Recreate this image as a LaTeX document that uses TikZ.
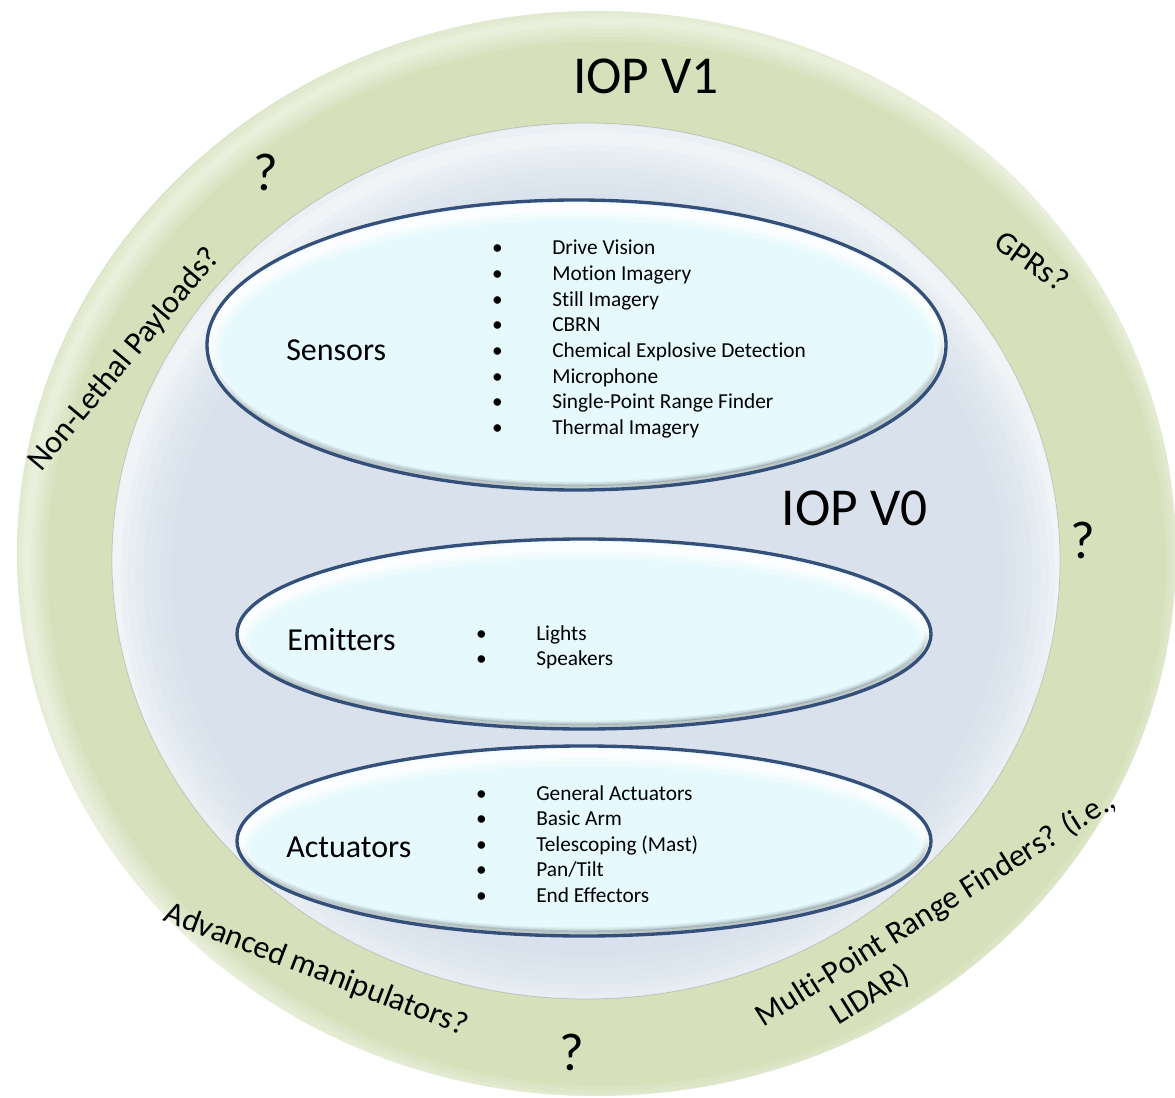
\documentclass[tikz,border=0pt]{standalone}
\usepackage{fontspec}
\setmainfont{Carlito}[Ligatures=NoCommon]
\definecolor{ringgreen}{HTML}{D6E1BC}
\definecolor{innerblue}{HTML}{D9E2EC}
\definecolor{podfill}{HTML}{E6FAFD}
\definecolor{podline}{HTML}{34507A}
\tikzset{
  lbl/.style={font=\fontsize{24}{29}\selectfont, inner sep=0pt},
  itm/.style={font=\fontsize{16}{19.2}\selectfont, inner sep=0pt},
  bigt/.style={font=\fontsize{40}{48}\selectfont, inner sep=0pt},
  qm/.style={font=\fontsize{40}{48}\selectfont, inner sep=0pt},
}
\newcommand{\podshape}[4]{%
  \fill[podfill] (#1,#2) ellipse [x radius=#3, y radius=#4];
  \begin{scope}
    \clip (#1,#2) ellipse [x radius=#3, y radius=#4];
    \foreach \w/\o in {8/0.05, 6/0.07, 4/0.09, 2.5/0.12}
      \draw[black, line width=\w pt, opacity=\o] ({#1-1.5},{#2-3}) ellipse [x radius=#3, y radius=#4];
    \foreach \w/\o in {18/0.3, 11/0.45, 6/0.65}
      \draw[white, line width=\w pt, opacity=\o] ({#1+1},{#2+8}) ellipse [x radius=#3, y radius=#4];
  \end{scope}
  \draw[podline, line width=2.5pt] (#1,#2) ellipse [x radius=#3, y radius=#4];
}
\begin{document}
\begin{tikzpicture}[x=0.75pt,y=-0.75pt]
\useasboundingbox (0,0) rectangle (1175,1098);
% outer ring
\fill[ringgreen] (596.5,553.5) ellipse [x radius=434.625pt, y radius=406.875pt];
\begin{scope}
  \clip (596.5,553.5) ellipse [x radius=434.625pt, y radius=406.875pt];
  \foreach \w/\o in {30/0.10, 24/0.10, 18/0.12, 12/0.14, 6/0.18}
    \draw[white, line width=\w pt, opacity=\o] (606.5,563.5) ellipse [x radius=434.625pt, y radius=406.875pt];
\end{scope}
% inner disc
\fill[innerblue] (586,561) ellipse [x radius=355.5pt, y radius=328.5pt];
\begin{scope}
  \clip (586,561) ellipse [x radius=355.5pt, y radius=328.5pt];
  \foreach \w/\o in {84/0.07, 70/0.08, 56/0.10, 44/0.12, 32/0.15, 20/0.2, 10/0.3}
    \draw[white, line width=\w pt, opacity=\o] (588,576) ellipse [x radius=355.5pt, y radius=328.5pt];
\end{scope}
\draw[black, opacity=0.15, line width=0.6pt] (586,561) ellipse [x radius=355.5pt, y radius=328.5pt];
% pods
\podshape{576.5}{345}{277.125pt}{108.75pt}
\podshape{584}{634}{260.25pt}{71.25pt}
\podshape{584}{841}{260.25pt}{71.25pt}
% titles
\node[bigt] (v1) at (646,76) {IOP V1};
\node[bigt] (v0) at (854.5,508.5) {IOP V0};
% question marks
\node[qm] (q1) at (266,172) {?};
\node[qm] (q2) at (1083,540) {?};
\node[qm] (q3) at (572,1052) {?};
% ring labels
\node[lbl, rotate=50] (nonlethal) at (124.5,359.5) {Non-Lethal Payloads?};
\node[lbl, rotate=-35] (gprs) at (1032,261) {GPRs?};
\node[lbl, rotate=-21] (advanced) at (316,970) {Advanced manipulators?};
\node[lbl, rotate=32] (multi1) at (936,909) {Multi-Point Range Finders? (i.e.,};
\node[lbl, rotate=32] (multi2) at (870,995) {LIDAR)};
% group labels
\node[lbl, anchor=base west] (sensors) at (286,361) {Sensors};
\node[lbl, anchor=base west] (emitters) at (287,650) {Emitters};
\node[lbl, anchor=base west] (actuators) at (286,857) {Actuators};
% items
\foreach \t [count=\i from 0] in {Drive Vision, Motion Imagery, Still Imagery, CBRN, Chemical Explosive Detection, Microphone, Single-Point Range Finder, Thermal Imagery}{
  \node[itm, anchor=base] (sb\i) at (497.5,{255+25.6*\i}) {•};
  \node[itm, anchor=base west] (st\i) at (552,{255+25.6*\i}) {\t};
}
\foreach \t [count=\i from 0] in {Lights, Speakers}{
  \node[itm, anchor=base] (eb\i) at (481.5,{640+25.6*\i}) {•};
  \node[itm, anchor=base west] (et\i) at (536,{640+25.6*\i}) {\t};
}
\foreach \t [count=\i from 0] in {General Actuators, Basic Arm, Telescoping (Mast), Pan/Tilt, End Effectors}{
  \node[itm, anchor=base] (ab\i) at (481.5,{800+25.6*\i}) {•};
  \node[itm, anchor=base west] (at\i) at (536,{800+25.6*\i}) {\t};
}
\end{tikzpicture}
\end{document}
